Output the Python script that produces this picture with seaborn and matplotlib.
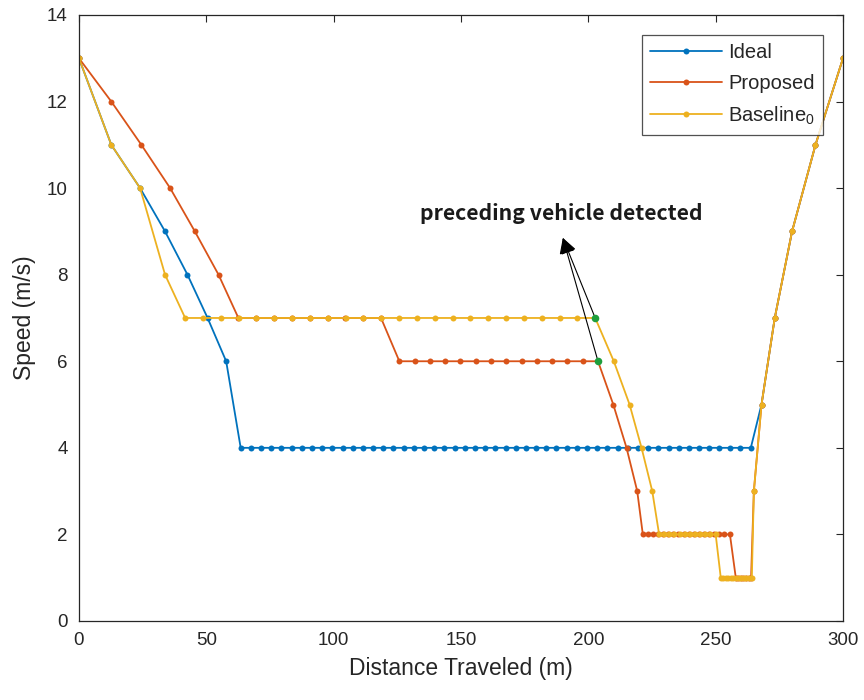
import matplotlib
matplotlib.use("Agg")
import matplotlib.pyplot as plt
import seaborn as sns

# Ideal (blue)
ideal_x = [0, 12.7, 24, 33.8, 42.6, 50.5, 57.8,
           63.5, 67.5, 71.5, 75.5, 79.5, 83.5, 87.5, 91.5, 95.5, 99.5,
           103.5, 107.5, 111.5, 115.5, 119.5, 123.5, 127.5, 131.5, 135.5, 139.5,
           143.5, 147.5, 151.5, 155.5, 159.5, 163.5, 167.5, 171.5, 175.5, 179.5,
           183.5, 187.5, 191.5, 195.5, 199.5, 203.5, 207.5, 211.5, 215.5, 219.5,
           223.5, 227.5, 231.5, 235.5, 239.5, 243.5, 247.5, 251.5, 255.5, 259.5,
           263.8, 268, 273.2, 280, 289.2, 300]
ideal_y = [13, 11, 10, 9, 8, 7, 6,
           4, 4, 4, 4, 4, 4, 4, 4, 4, 4,
           4, 4, 4, 4, 4, 4, 4, 4, 4, 4,
           4, 4, 4, 4, 4, 4, 4, 4, 4, 4,
           4, 4, 4, 4, 4, 4, 4, 4, 4, 4,
           4, 4, 4, 4, 4, 4, 4, 4, 4, 4,
           4, 5, 7, 9, 11, 13]

# Proposed (red)
prop_x = [0, 12.7, 24.5, 35.8, 45.5, 54.8,
          62.6, 69.6, 76.6, 83.6, 90.6, 97.6, 104.6, 111.6, 118.6,
          125.8, 131.8, 137.8, 143.8, 149.8, 155.8, 161.8, 167.8, 173.8, 179.8,
          185.8, 191.8, 197.8, 203.8,
          209.8, 215, 219.2,
          221.4, 223.4, 225.4, 227.4, 229.4, 231.4, 233.4, 235.4, 237.4, 239.4,
          241.4, 243.4, 245.4, 247.4, 249.4, 251.4, 253.4, 255.6,
          257.9, 258.9, 259.9, 260.9, 261.9, 262.9, 263.9,
          265, 268, 273.2, 280, 289.2, 300]
prop_y = [13, 12, 11, 10, 9, 8,
          7, 7, 7, 7, 7, 7, 7, 7, 7,
          6, 6, 6, 6, 6, 6, 6, 6, 6, 6,
          6, 6, 6, 6,
          5, 4, 3,
          2, 2, 2, 2, 2, 2, 2, 2, 2, 2,
          2, 2, 2, 2, 2, 2, 2, 2,
          1, 1, 1, 1, 1, 1, 1,
          3, 5, 7, 9, 11, 13]

# Baseline_0 (yellow)
base_x = [0, 12.7, 24, 33.8,
          41.7, 48.7, 55.7, 62.7, 69.7, 76.7, 83.7, 90.7, 97.7, 104.7, 111.7, 118.7,
          125.7, 132.7, 139.7, 146.7, 153.7, 160.7, 167.7, 174.7, 181.7, 188.7,
          195.7, 202.7,
          210, 216.2, 220.9, 225.1,
          227.8, 229.8, 231.8, 233.8, 235.8, 237.8, 239.8, 241.8, 243.8, 245.8,
          247.8, 250,
          252, 253, 254, 255, 256, 257, 258, 259, 260, 261, 262, 263, 264.2,
          265, 268, 273.2, 280, 289.2, 300]
base_y = [13, 11, 10, 8,
          7, 7, 7, 7, 7, 7, 7, 7, 7, 7, 7, 7,
          7, 7, 7, 7, 7, 7, 7, 7, 7, 7,
          7, 7,
          6, 5, 4, 3,
          2, 2, 2, 2, 2, 2, 2, 2, 2, 2,
          2, 2,
          1, 1, 1, 1, 1, 1, 1, 1, 1, 1, 1, 1, 1,
          3, 5, 7, 9, 11, 13]

# points where the preceding vehicle is detected
detect_x = [202.7, 203.8]
detect_y = [7, 6]
note_text = "preceding vehicle detected"
note_pos = (189.3, 9.42)
arrow_tip = (190.0, 8.85)

sns.set_style("white")
plt.rcParams["font.family"] = ["Liberation Sans", "DejaVu Sans"]
plt.rcParams["mathtext.fontset"] = "custom"
plt.rcParams["mathtext.rm"] = "Liberation Sans"
plt.rcParams["mathtext.it"] = "Liberation Sans"

fig = plt.figure(figsize=(8.64, 7), dpi=100)
ax = fig.add_axes([0.0914, 0.1129, 0.8843, 0.8657])

colors = ["#0072BD", "#D95319", "#EDB120"]
series = [(ideal_x, ideal_y, "Ideal"),
          (prop_x, prop_y, "Proposed"),
          (base_x, base_y, "Baseline$_{0}$")]
for (xs, ys, name), c in zip(series, colors):
    sns.lineplot(x=xs, y=ys, sort=False, estimator=None, ax=ax, color=c,
                 linewidth=1.3, marker="o", markersize=4.3, markeredgewidth=0,
                 label=name)

sns.scatterplot(x=detect_x, y=detect_y, ax=ax, color="#1E9E3C", s=30,
                linewidth=0, zorder=5, legend=False)

for px, py in zip(detect_x, detect_y):
    ax.annotate("", xy=arrow_tip, xytext=(px, py),
                arrowprops=dict(arrowstyle="-|>", color="black", lw=0.8,
                                mutation_scale=24, shrinkA=0, shrinkB=0))
ax.text(note_pos[0], note_pos[1], note_text, ha="center", va="center",
        fontsize=15.3, fontweight="bold",
        family=["Noto Sans CJK SC", "DejaVu Sans"], color="#1a1a1a")

ax.set_xlim(0, 300)
ax.set_ylim(0, 14)
ax.set_xticks([0, 50, 100, 150, 200, 250, 300])
ax.set_yticks([0, 2, 4, 6, 8, 10, 12, 14])
ax.tick_params(direction="in", top=True, right=True, length=5, width=0.8,
               labelsize=13.5, colors="#262626", pad=8)
for s in ax.spines.values():
    s.set_visible(True)
    s.set_color("#262626")
    s.set_linewidth(0.9)

ax.set_xlabel("Distance Traveled (m)", fontsize=16.5, color="#262626", labelpad=6)
ax.set_ylabel("Speed (m/s)", fontsize=16.5, color="#262626", labelpad=8)

leg = ax.legend(loc="upper right", bbox_to_anchor=(0.974, 0.967),
                borderaxespad=0, fontsize=14.5, handlelength=3.6,
                handletextpad=0.3, frameon=True, fancybox=False,
                edgecolor="#262626", labelspacing=0.58, borderpad=0.4)
leg.get_frame().set_linewidth(0.9)
for t in leg.get_texts():
    t.set_color("#262626")

fig.savefig("out.png", dpi=100)
